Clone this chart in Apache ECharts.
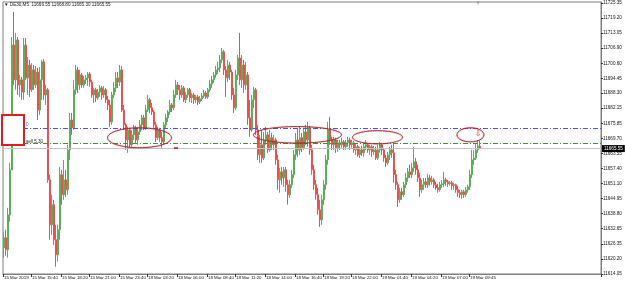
<!DOCTYPE html>
<html>
<head>
<meta charset="utf-8">
<script src="https://cdn.jsdelivr.net/npm/echarts@6/dist/echarts.min.js"></script>
<style>
  html, body { margin: 0; padding: 0; background: #fff; }
  #chart { width: 625px; height: 286px; }
</style>
</head>
<body>
<div id="chart"></div>
<script>
// DE30 M5 bars: [open, close, low, high]
const ohlc = [
  [11624.8,11628.9,11620.7,11631.4],[11628.9,11624.0,11621.5,11632.2],[11624.0,11638.3,11620.7,11641.2],[11638.3,11656.8,11635.5,11659.7],
  [11656.8,11708.1,11656.8,11711.4],[11708.1,11693.8,11691.7,11721.7],[11693.8,11710.2,11689.7,11713.1],[11710.2,11691.7,11687.6,11711.4],
  [11691.7,11693.8,11686.8,11695.8],[11693.8,11688.8,11685.6,11695.0],[11688.8,11708.1,11685.6,11711.0],[11708.1,11694.6,11693.8,11711.0],
  [11694.6,11699.9,11687.6,11703.2],[11699.9,11689.7,11686.8,11702.0],[11689.7,11697.9,11688.8,11700.7],[11697.9,11691.7,11689.7,11699.9],
  [11691.7,11697.0,11690.5,11699.5],[11697.0,11681.4,11677.3,11698.7],[11681.4,11693.8,11679.4,11699.1],[11693.8,11701.2,11685.6,11702.0],
  [11701.2,11687.6,11685.6,11702.4],[11687.6,11689.7,11683.5,11691.7],[11689.7,11652.7,11651.5,11690.5],[11652.7,11634.2,11628.1,11654.8],
  [11634.2,11642.5,11630.1,11646.6],[11642.5,11628.1,11626.0,11644.5],[11628.1,11621.9,11617.0,11634.2],[11621.9,11632.2,11619.1,11634.2],
  [11632.2,11654.8,11628.1,11658.0],[11654.8,11646.6,11642.5,11656.8],[11646.6,11652.7,11644.5,11660.9],[11652.7,11648.6,11645.7,11656.8],
  [11648.6,11665.0,11646.6,11667.1],[11665.0,11677.3,11660.9,11680.2],[11677.3,11674.1,11671.2,11680.2],[11674.1,11689.7,11673.2,11693.8],
  [11689.7,11697.9,11687.6,11699.9],[11697.9,11691.7,11688.4,11699.1],[11691.7,11695.8,11689.7,11697.9],[11695.8,11691.7,11690.5,11696.6],
  [11691.7,11693.8,11690.5,11695.4],[11693.8,11694.6,11692.1,11695.8],[11694.6,11696.2,11691.3,11697.0],[11696.2,11692.9,11690.9,11697.0],
  [11692.9,11687.6,11686.4,11693.8],[11687.6,11689.7,11684.3,11690.5],[11689.7,11686.4,11684.7,11690.5],[11686.4,11688.8,11685.6,11690.1],
  [11688.8,11690.5,11686.8,11691.7],[11690.5,11687.6,11685.6,11691.3],[11687.6,11689.7,11686.4,11691.3],[11689.7,11685.6,11684.3,11690.5],
  [11685.6,11683.5,11681.4,11687.2],[11683.5,11676.5,11674.5,11685.6],[11676.5,11687.6,11675.3,11688.8],[11687.6,11690.5,11686.4,11692.9],
  [11690.5,11694.6,11688.8,11697.0],[11694.6,11692.9,11690.5,11697.0],[11692.9,11697.9,11691.3,11699.9],[11697.9,11681.4,11680.6,11699.5],
  [11681.4,11675.3,11673.2,11683.5],[11675.3,11669.1,11665.0,11676.1],[11669.1,11673.2,11663.8,11674.5],[11673.2,11667.1,11665.9,11674.1],
  [11667.1,11671.2,11666.3,11673.2],[11671.2,11674.1,11669.1,11675.3],[11674.1,11669.1,11667.9,11674.9],[11669.1,11672.4,11667.1,11674.1],
  [11672.4,11675.3,11671.2,11677.3],[11675.3,11678.2,11673.2,11679.4],[11678.2,11674.1,11673.2,11679.4],[11674.1,11681.4,11673.2,11683.5],
  [11681.4,11685.6,11680.6,11687.6],[11685.6,11682.3,11680.2,11686.4],[11682.3,11680.6,11679.4,11684.3],[11680.6,11675.3,11674.1,11681.4],
  [11675.3,11670.0,11668.3,11676.5],[11670.0,11673.2,11669.1,11674.5],[11673.2,11670.0,11668.3,11674.1],[11670.0,11668.3,11665.9,11672.4],
  [11668.3,11675.3,11667.1,11676.5],[11675.3,11678.2,11674.1,11679.8],[11678.2,11680.6,11676.5,11681.4],[11680.6,11683.5,11679.4,11685.6],
  [11683.5,11682.3,11680.6,11684.3],[11682.3,11687.6,11681.4,11689.7],[11687.6,11691.7,11686.4,11693.8],[11691.7,11689.7,11687.6,11692.9],
  [11689.7,11687.6,11685.6,11691.7],[11687.6,11690.5,11686.4,11691.7],[11690.5,11685.6,11684.7,11691.3],[11685.6,11687.6,11684.3,11688.8],
  [11687.6,11689.7,11686.4,11690.5],[11689.7,11686.4,11684.7,11690.5],[11686.4,11687.6,11684.3,11688.4],[11687.6,11685.6,11683.9,11688.4],
  [11685.6,11686.8,11684.3,11687.6],[11686.8,11684.7,11683.5,11687.6],[11684.7,11686.0,11683.9,11687.2],[11686.0,11687.2,11685.1,11688.4],
  [11687.2,11688.4,11686.4,11689.7],[11688.4,11686.8,11686.0,11689.2],[11686.8,11689.7,11686.0,11690.5],[11689.7,11692.1,11688.8,11693.8],
  [11692.1,11693.8,11690.5,11695.4],[11693.8,11695.8,11692.5,11697.0],[11695.8,11697.9,11694.6,11699.5],[11697.9,11698.7,11696.2,11701.2],
  [11698.7,11702.0,11697.0,11704.0],[11702.0,11705.3,11700.7,11706.9],[11705.3,11697.9,11695.8,11706.1],[11697.9,11694.6,11686.8,11699.5],
  [11694.6,11699.9,11692.9,11702.0],[11699.9,11697.0,11693.8,11701.2],[11697.0,11687.6,11685.6,11697.9],[11687.6,11682.3,11680.2,11690.5],
  [11682.3,11695.8,11681.4,11697.9],[11695.8,11702.8,11693.8,11704.0],[11702.8,11693.8,11691.7,11713.1],[11693.8,11699.9,11690.5,11704.0],
  [11699.9,11691.7,11688.4,11702.0],[11691.7,11695.8,11689.7,11701.2],[11695.8,11678.2,11675.3,11697.0],[11678.2,11673.2,11670.4,11685.6],
  [11673.2,11685.6,11672.4,11687.6],[11685.6,11689.7,11682.3,11690.9],[11689.7,11673.2,11671.2,11690.5],[11673.2,11663.0,11660.9,11675.3],
  [11663.0,11667.1,11659.7,11671.2],[11667.1,11661.7,11659.7,11673.2],[11661.7,11669.1,11660.9,11672.4],[11669.1,11671.2,11667.1,11674.5],
  [11671.2,11665.0,11663.8,11672.4],[11665.0,11670.0,11664.2,11673.2],[11670.0,11667.1,11665.0,11672.0],[11667.1,11669.1,11665.0,11671.2],
  [11669.1,11660.9,11658.9,11670.0],[11660.9,11652.7,11648.6,11663.0],[11652.7,11656.0,11647.4,11657.6],[11656.0,11653.5,11650.7,11658.0],
  [11653.5,11656.8,11649.8,11658.0],[11656.8,11650.7,11647.8,11658.0],[11650.7,11646.6,11642.5,11652.7],[11646.6,11650.7,11645.3,11652.7],
  [11650.7,11654.8,11649.4,11656.8],[11654.8,11663.0,11653.5,11665.0],[11663.0,11669.1,11660.9,11672.0],[11669.1,11665.0,11662.2,11674.1],
  [11665.0,11670.0,11663.0,11674.5],[11670.0,11665.9,11664.2,11672.0],[11665.9,11672.4,11665.0,11674.1],[11672.4,11669.1,11667.1,11675.3],
  [11669.1,11674.1,11666.3,11676.5],[11674.1,11665.0,11663.0,11674.9],[11665.0,11656.8,11654.8,11667.1],[11656.8,11650.7,11648.6,11658.9],
  [11650.7,11646.6,11644.5,11652.7],[11646.6,11640.4,11638.3,11649.4],[11640.4,11636.3,11633.4,11644.5],[11636.3,11644.5,11634.2,11646.6],
  [11644.5,11650.7,11642.5,11652.7],[11650.7,11660.9,11648.6,11663.0],[11660.9,11673.2,11658.9,11676.5],[11673.2,11669.1,11667.1,11678.6],
  [11669.1,11667.1,11665.0,11670.4],[11667.1,11669.1,11665.0,11670.4],[11669.1,11665.9,11663.8,11670.0],[11665.9,11667.9,11664.2,11669.1],
  [11667.9,11667.1,11665.0,11669.1],[11667.1,11668.3,11665.9,11670.0],[11668.3,11666.3,11665.0,11669.1],[11666.3,11667.9,11665.0,11669.1],
  [11667.9,11669.1,11666.3,11670.4],[11669.1,11667.1,11665.0,11670.0],[11667.1,11667.9,11665.9,11669.1],[11667.9,11665.0,11663.8,11668.7],
  [11665.0,11666.3,11663.0,11667.5],[11666.3,11663.0,11662.2,11667.1],[11663.0,11665.0,11661.7,11666.3],[11665.0,11663.8,11662.6,11666.7],
  [11663.8,11666.3,11662.2,11667.5],[11666.3,11667.1,11665.0,11669.1],[11667.1,11665.0,11663.8,11667.9],[11665.0,11666.3,11663.0,11667.1],
  [11666.3,11664.2,11662.2,11667.1],[11664.2,11665.0,11663.0,11666.7],[11665.0,11661.7,11660.9,11666.3],[11661.7,11665.0,11660.9,11667.1],
  [11665.0,11667.1,11663.8,11668.3],[11667.1,11665.0,11663.0,11667.9],[11665.0,11661.7,11660.1,11665.9],[11661.7,11659.7,11658.0,11663.0],
  [11659.7,11663.0,11658.9,11664.2],[11663.0,11665.0,11660.9,11666.3],[11665.0,11663.8,11661.7,11667.1],[11663.8,11654.8,11651.5,11667.9],
  [11654.8,11650.7,11648.6,11656.8],[11650.7,11644.5,11641.6,11651.9],[11644.5,11647.8,11643.3,11649.4],[11647.8,11646.6,11644.5,11649.4],
  [11646.6,11650.7,11645.7,11651.9],[11650.7,11653.5,11649.4,11655.6],[11653.5,11656.0,11651.9,11657.6],[11656.0,11654.8,11653.5,11658.9],
  [11654.8,11657.6,11653.5,11659.7],[11657.6,11660.1,11656.0,11666.3],[11660.1,11656.8,11654.8,11661.7],[11656.8,11653.5,11651.9,11658.9],
  [11653.5,11648.6,11645.7,11655.6],[11648.6,11650.7,11647.4,11652.7],[11650.7,11651.9,11648.6,11653.5],[11651.9,11650.7,11649.4,11653.5],
  [11650.7,11653.5,11649.4,11655.2],[11653.5,11651.9,11650.3,11654.8],[11651.9,11652.7,11650.7,11654.4],[11652.7,11650.7,11649.4,11653.5],
  [11650.7,11649.4,11648.6,11651.9],[11649.4,11648.6,11647.4,11651.1],[11648.6,11650.7,11647.8,11651.9],[11650.7,11651.1,11649.4,11652.7],
  [11651.1,11652.7,11649.8,11656.0],[11652.7,11651.9,11650.3,11653.5],[11651.9,11651.1,11649.8,11652.7],[11651.1,11651.5,11650.3,11652.3],
  [11651.5,11650.3,11648.6,11652.3],[11650.3,11650.7,11648.6,11651.5],[11650.7,11648.6,11647.4,11651.1],[11648.6,11647.4,11645.7,11650.3],
  [11647.4,11646.6,11645.3,11648.6],[11646.6,11647.8,11644.9,11648.6],[11647.8,11646.6,11645.3,11648.6],[11646.6,11648.6,11645.7,11649.8],
  [11648.6,11649.8,11647.4,11650.7],[11649.8,11654.8,11648.6,11656.8],[11654.8,11660.9,11653.5,11665.0],[11660.9,11661.7,11658.9,11665.0],
  [11661.7,11665.0,11660.9,11667.9],[11665.0,11666.6,11663.8,11669.1],[11666.55,11665.55,11665.30,11668.80]
];

// time axis: number of bar slots across the window and the labelled bars
const slotCount = 299;
const tickBars = [0, 14, 29, 43, 58, 72, 87, 102, 116, 131, 146, 160, 174, 189, 204, 219, 233];
const tickLabels = ['15 Mar 2019', '15 Mar 15:40', '15 Mar 18:20', '15 Mar 21:00', '15 Mar 23:40',
  '18 Mar 03:20', '18 Mar 06:00', '18 Mar 08:40', '18 Mar 11:20', '18 Mar 14:00', '18 Mar 16:40',
  '18 Mar 19:20', '18 Mar 22:00', '19 Mar 01:40', '19 Mar 04:20', '19 Mar 07:00', '19 Mar 09:45'];

// price scale labels
const priceTicks = [11725.35, 11719.20, 11713.05, 11706.90, 11700.60, 11694.45, 11688.30, 11682.15,
  11675.85, 11669.70, 11663.55, 11657.40, 11651.10, 11644.95, 11638.80, 11632.65, 11626.35, 11620.20, 11614.05];

// levels drawn on chart
const buyLevel = 11674.1;
const sellLevel = 11667.9;
const bidPrice = 11665.55;
const header = '\u25BC DE30,M5  11666.55 11668.80 11665.30 11665.55';

// red ellipses: [center bar, center price, half width in bars, half height in points]
const ellipses = [
  [67.75, 11670.0, 16, 4.1],
  [146.75, 11671.2, 22, 3.4],
  [186.75, 11670.2, 12.5, 2.7],
  [233.25, 11671.2, 6.75, 2.9]
];

const categories = Array.from({ length: slotCount }, (_, i) => {
  const k = tickBars.indexOf(i);
  return k >= 0 ? tickLabels[k] : '';
});

const chart = echarts.init(document.getElementById('chart'));
const font = 'Liberation Sans, Arial, sans-serif';

chart.setOption({
  animation: false,
  backgroundColor: '#fff',
  grid: { left: 3, right: 24, top: 2, bottom: 12, show: true, borderColor: '#808080', borderWidth: 1 },
  xAxis: {
    type: 'category',
    data: categories,
    boundaryGap: true,
    axisLine: { show: true, lineStyle: { color: '#808080' } },
    axisTick: { show: true, length: 3, interval: (i) => tickBars.includes(i), lineStyle: { color: '#333' } },
    axisLabel: {
      interval: (i) => tickBars.includes(i),
      align: 'left', margin: 2, fontSize: 4.4, color: '#111', fontFamily: font
    },
    splitLine: { show: false }
  },
  yAxis: {
    type: 'value',
    position: 'right',
    min: 11614.0,
    max: 11725.8,
    axisLine: { show: true, lineStyle: { color: '#808080' } },
    axisTick: { show: true, length: 2, customValues: priceTicks, lineStyle: { color: '#333' } },
    axisLabel: {
      customValues: priceTicks,
      formatter: (v) => v.toFixed(2),
      margin: 2, fontSize: 4.6, color: '#111', fontFamily: font
    },
    splitLine: { show: false }
  },
  series: [{
    type: 'candlestick',
    data: ohlc,
    barWidth: 1.6,
    itemStyle: {
      color: '#58b058', color0: '#f04f4f',
      borderColor: '#58b058', borderColor0: '#f04f4f', borderWidth: 1
    },
    markLine: {
      silent: true,
      symbol: 'none',
      label: { show: false },
      data: [
        { yAxis: buyLevel, lineStyle: { color: '#5050f0', type: [5, 2, 1, 2], width: 1 } },
        { yAxis: sellLevel, lineStyle: { color: '#3f8f3f', type: [5, 2, 1, 2], width: 1 } },
        {
          yAxis: bidPrice, lineStyle: { color: '#c4c4c4', type: 'solid', width: 1 },
          label: {
            show: true, position: 'end', distance: 1, formatter: () => bidPrice.toFixed(2),
            backgroundColor: '#000', color: '#fff', fontSize: 4.6, padding: [1, 2], fontFamily: font
          }
        },
        [
          { coord: [85, 11665.9], lineStyle: { color: '#a01818', type: 'solid', width: 1.5 } },
          { coord: [87, 11665.9] }
        ]
      ]
    }
  }]
});

// overlays placed from data coordinates
const toPx = (x, y) => chart.convertToPixel({ gridIndex: 0 }, [x, y]);
const x0 = toPx(0, bidPrice)[0];
const xStep = (toPx(100, bidPrice)[0] - x0) / 100;
const yPx = (p) => toPx(0, p)[1];

const graphics = ellipses.map((e) => ({
  type: 'ellipse',
  z: 50,
  shape: { cx: x0 + e[0] * xStep, cy: yPx(e[1]), rx: e[2] * xStep, ry: Math.abs(yPx(e[1] + e[3]) - yPx(e[1])) },
  style: { fill: 'none', stroke: '#c42a2a', lineWidth: 1, shadowBlur: 1.5, shadowColor: 'rgba(0,0,0,0.35)' }
}));

graphics.push(
  {
    type: 'text', z: 60, x: x0 + 237 * xStep, y: yPx(11671.6),
    style: { text: '\u21E9', fill: '#d03030', fontSize: 8, fontFamily: 'DejaVu Sans', align: 'center', verticalAlign: 'middle' }
  },
  {
    type: 'text', z: 60, left: 4, top: 2,
    style: { text: header, fill: '#222', fontSize: 4.6, fontFamily: font }
  },
  {
    type: 'rect', z: 60, shape: { x: 2, y: 115, width: 22, height: 30 },
    style: { fill: '#fff', stroke: '#e01c1c', lineWidth: 2 }
  },
  {
    type: 'text', z: 60, x: 26, y: 122,
    style: { text: '0', fill: '#4a6ad0', fontSize: 4.6, fontFamily: font }
  },
  {
    type: 'text', z: 60, x: 26, y: 139,
    style: { text: 'sell 5.30', fill: '#222', fontSize: 4.6, fontFamily: font }
  },
  {
    type: 'text', z: 60, x: x0 + 237 * xStep, y: 1,
    style: { text: '\u25BC', fill: '#999', fontSize: 4, fontFamily: 'DejaVu Sans', align: 'center' }
  }
);

chart.setOption({ graphic: graphics });
window.onresize = () => chart.resize();
</script>
</body>
</html>
